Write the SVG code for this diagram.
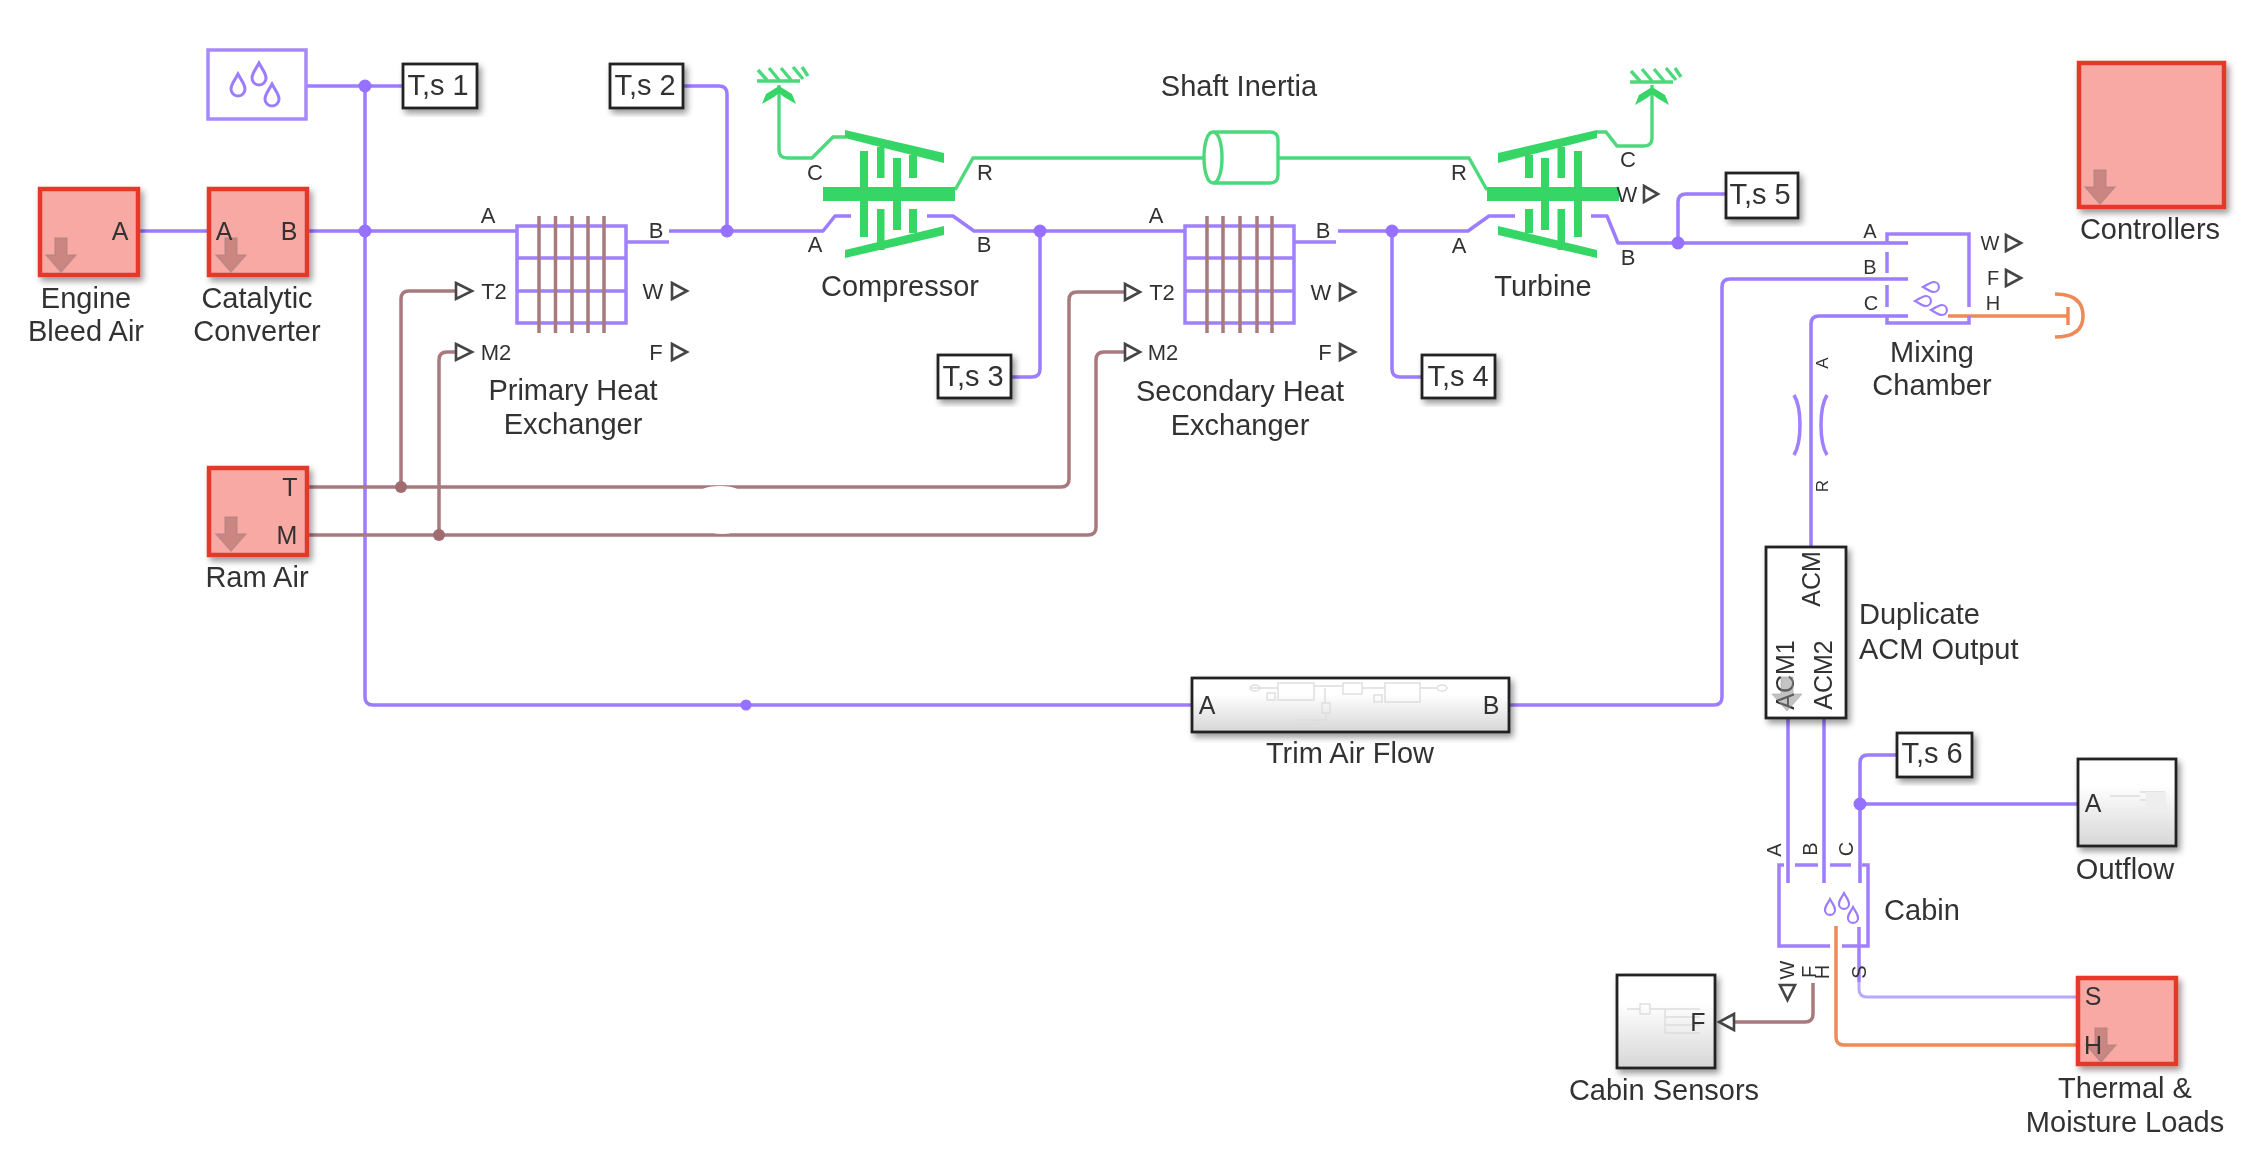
<svg xmlns="http://www.w3.org/2000/svg" xmlns:xlink="http://www.w3.org/1999/xlink" width="2260" height="1172" viewBox="0 0 2260 1172">
<style>
text{font-family:"Liberation Sans",Arial,sans-serif;fill:#333;dominant-baseline:central;text-anchor:middle}
.lb{font-size:29px;transform:translateY(-1.5px)}.p{font-size:22px}.s{font-size:20px}.ts{font-size:29px}.big{font-size:25px}
.pur{fill:none;stroke:#9c7bff;stroke-width:3.5;stroke-linejoin:round}
.pur2{fill:none;stroke:#a080ff;stroke-width:3.5}
.lil{fill:none;stroke:#b9a8ff;stroke-width:3}
.bro{fill:none;stroke:#a87a7e;stroke-width:3.5}
.gre{fill:none;stroke:#4cd97c;stroke-width:3.4}
.org{fill:none;stroke:#ee8a58;stroke-width:3.5}
.gb{fill:#35d566}
.jp{fill:#9670ff}.jb{fill:#a06c70}
.tri{fill:#fff;stroke:#444;stroke-width:2.6}
.red{fill:#f8a9a3;stroke:#e5382b;stroke-width:4.5}
.blk{fill:#fff;stroke:#222;stroke-width:2.8}
.sub{fill:url(#gr);stroke:#222;stroke-width:2.8}
.fa{fill:none;stroke:#ddd;stroke-width:1.4}
.shade{filter:url(#sh)}
.drop{fill:none;stroke:#9c7bff;stroke-width:3}
.dn{fill:#a86a68;fill-opacity:.55;stroke:#a08080;stroke-opacity:.5;stroke-width:1.5}
.dg{fill:#888;fill-opacity:.5;stroke:#999;stroke-opacity:.5;stroke-width:1}
</style>
<defs>
<linearGradient id="gr" x1="0" y1="0" x2="0" y2="1"><stop offset="0.3" stop-color="#fff"/><stop offset="1" stop-color="#d6d6d6"/></linearGradient>
<filter id="sh" x="-15%" y="-15%" width="135%" height="135%"><feDropShadow dx="3" dy="4" stdDeviation="3" flood-color="#000" flood-opacity=".4"/></filter>
<filter id="soft" filterUnits="userSpaceOnUse" x="0" y="0" width="2260" height="1172"><feGaussianBlur stdDeviation="0.7"/></filter>
<path id="drop" d="M0 -11C3 -5 7 -1 7 4A7 7 0 0 1 -7 4C-7 -1 -3 -5 0 -11Z"/>
<path id="dn" d="M-6 0H6V17H15L0 34L-15 17H-6Z"/>
<g id="ground"><path class="gre" d="M757 81H800M758 70L767 80M769 68L779 80M781 68L791 80M793 67L803 79M802 67L808 76"/><path class="gb" d="M779 86L792 94L796 104L784 97L779 93L774 97L762 104L766 94Z"/></g>
<g id="rotor" class="gb">
<rect x="823" y="187" width="132" height="14"/>
<rect x="860" y="151" width="8" height="86"/><rect x="893" y="158" width="8" height="72"/>
<rect x="877" y="147" width="7.500" height="31"/><rect x="909" y="155" width="8" height="23"/>
<rect x="877" y="209" width="7.500" height="41"/><rect x="909" y="209" width="8" height="24"/>
<polygon points="845,130 944,153 944,163 845,138"/><polygon points="845,250 944,226 944,235 845,258"/>
</g>
</defs>
<rect width="2260" height="1172" fill="#fff"/>
<g filter="url(#soft)">

<g id="connectors">
<path class="pur" d="M306 86H403"/>
<path class="pur" d="M365 86V697Q365 705 373 705H1192"/>
<path class="pur" d="M139 231H209M307 231H517"/>
<path class="pur" d="M669 231H823L835 216H851"/>
<path class="pur" d="M683 86H719Q727 86 727 94V231"/>
<path class="pur" d="M927 216H953L974 231H1185"/>
<path class="pur" d="M1040 231V369Q1040 377 1032 377H1011"/>
<path class="pur" d="M1338 231H1468L1489 216H1515"/>
<path class="pur" d="M1392 231V369Q1392 377 1400 377H1422"/>
<path class="pur" d="M1591 216H1607L1618 243H1908"/>
<path class="pur" d="M1678 243V202Q1678 194 1686 194H1727"/>
<path class="pur" d="M1509 705H1714Q1722 705 1722 697V287Q1722 279 1730 279H1908"/>
<path class="pur" d="M1908 316H1819Q1811 316 1811 324V547"/>
<path class="pur" d="M1788 718V883M1824 718V883"/>
<path class="pur" d="M1860 883V763Q1860 755 1868 755H1897"/>
<path class="pur" d="M1860 804H2078"/>
<path class="pur2" d="M1859 927V982"/>
<path class="lil" d="M1859 982V989Q1859 997 1867 997H2078"/>
<path class="org" d="M1836 926V1037Q1836 1045 1844 1045H2078"/>
<path class="org" d="M1948 316H2068"/>
<path class="bro" d="M307 487H1061Q1069 487 1069 479V300Q1069 292 1077 292H1125"/>
<path class="bro" d="M307 535H1088Q1096 535 1096 527V360Q1096 352 1104 352H1125"/>
<ellipse cx="720" cy="494" rx="22" ry="8" fill="#fff"/><ellipse cx="722" cy="526" rx="18" ry="8" fill="#fff"/>
<path class="bro" d="M401 487V299Q401 291 409 291H455"/>
<path class="bro" d="M439 535V360Q439 352 447 352H455"/>
<path class="bro" d="M1813 983V1014Q1813 1022 1805 1022H1734"/>
<path class="gre" d="M779 85V150Q779 158 787 158H812L833 137H846"/>
<path class="gre" d="M955 190L973 158H1205M1278 158H1469L1487 190"/>
<path class="gre" d="M1597 132H1606L1617 146H1644Q1652 146 1652 138V85"/>
<circle class="jp" cx="365" cy="86" r="6.500"/><circle class="jp" cx="365" cy="231" r="6.500"/>
<circle class="jp" cx="727" cy="231" r="6.500"/><circle class="jp" cx="1040" cy="231" r="6.500"/>
<circle class="jp" cx="1392" cy="231" r="6.500"/><circle class="jp" cx="1678" cy="243" r="6.500"/>
<circle class="jp" cx="746" cy="705" r="5.500"/><circle class="jp" cx="1860" cy="804" r="6.500"/>
<circle class="jb" cx="401" cy="487" r="6"/><circle class="jb" cx="439" cy="535" r="6"/>
</g>

<g id="air-properties"><rect x="208" y="50" width="98" height="69" fill="#fff" stroke="#a688ff" stroke-width="3.5"/>
<use xlink:href="#drop" class="drop" x="238" y="85"/><use xlink:href="#drop" class="drop" x="259" y="74"/><use xlink:href="#drop" class="drop" x="272" y="95"/></g>

<g id="ts1"><rect class="blk shade" x="403" y="64" width="74" height="44"/><text class="ts" x="438" y="85">T,s 1</text></g>
<g id="ts2"><rect class="blk shade" x="610" y="64" width="73" height="44"/><text class="ts" x="645" y="85">T,s 2</text></g>
<g id="ts3"><rect class="blk shade" x="938" y="355" width="73" height="43"/><text class="ts" x="973" y="376">T,s 3</text></g>
<g id="ts4"><rect class="blk shade" x="1422" y="355" width="73" height="43"/><text class="ts" x="1458" y="376">T,s 4</text></g>
<g id="ts5"><rect class="blk shade" x="1726" y="173" width="72" height="45"/><text class="ts" x="1760" y="194">T,s 5</text></g>
<g id="ts6"><rect class="blk shade" x="1897" y="733" width="75" height="44"/><text class="ts" x="1932" y="753">T,s 6</text></g>

<g id="engine-bleed-air"><rect class="red shade" x="40" y="189" width="98" height="86"/><use xlink:href="#dn" class="dn" x="61" y="238"/><text class="big" x="120" y="231">A</text>
<text class="lb" x="86" y="299">Engine</text><text class="lb" x="86" y="332">Bleed Air</text></g>
<g id="catalytic-converter"><rect class="red shade" x="209" y="189" width="98" height="86"/><use xlink:href="#dn" class="dn" x="231" y="238"/><text class="big" x="224" y="231">A</text><text class="big" x="289" y="231">B</text>
<text class="lb" x="257" y="299">Catalytic</text><text class="lb" x="257" y="332">Converter</text></g>
<g id="ram-air"><rect class="red shade" x="209" y="468" width="98" height="87"/><use xlink:href="#dn" class="dn" x="231" y="517"/><text class="big" x="290" y="487">T</text><text class="big" x="287" y="535">M</text>
<text class="lb" x="257" y="578">Ram Air</text></g>

<g id="primary-hx">
<path class="pur2" d="M517 226H626V323H517ZM517 258H626M517 291H626M626 242H669"/>
<path class="bro" d="M539 216V333M555.500 216V333M572 216V333M588 216V333M604 216V333"/>
<text class="p" x="488" y="215">A</text><text class="p" x="656" y="230">B</text>
<polygon class="tri" points="456,283 472,291 456,299"/><polygon class="tri" points="456,344 472,352 456,360"/>
<text class="p" x="494" y="291">T2</text><text class="p" x="496" y="352">M2</text>
<text class="p" x="653" y="291">W</text><polygon class="tri" points="672,283 687,291 672,299"/>
<text class="p" x="656" y="352">F</text><polygon class="tri" points="672,344 687,352 672,360"/>
<text class="lb" x="573" y="391">Primary Heat</text><text class="lb" x="573" y="425">Exchanger</text>
</g>

<g id="compressor"><use xlink:href="#ground"/><use xlink:href="#rotor"/>
<text class="p" x="815" y="172">C</text><text class="p" x="985" y="172">R</text><text class="p" x="815" y="244">A</text><text class="p" x="984" y="244">B</text>
<text class="lb" x="900" y="287">Compressor</text></g>

<g id="shaft-inertia"><path class="gre" d="M1213 132H1270Q1278 132 1278 140V175Q1278 183 1270 183H1213C1201 183 1201 132 1213 132C1225 132 1225 183 1213 183"/>
<text class="lb" x="1239" y="87">Shaft Inertia</text></g>

<g id="secondary-hx">
<path class="pur2" d="M1185 226H1294V323H1185ZM1185 258H1294M1185 291H1294M1294 242H1336"/>
<path class="bro" d="M1207 216V333M1223 216V333M1240 216V333M1257 216V333M1272 216V333"/>
<text class="p" x="1156" y="215">A</text><text class="p" x="1323" y="230">B</text>
<polygon class="tri" points="1125,284 1140,292 1125,300"/><polygon class="tri" points="1125,344 1140,352 1125,360"/>
<text class="p" x="1162" y="292">T2</text><text class="p" x="1163" y="352">M2</text>
<text class="p" x="1321" y="292">W</text><polygon class="tri" points="1340,284 1355,292 1340,300"/>
<text class="p" x="1325" y="352">F</text><polygon class="tri" points="1340,344 1355,352 1340,360"/>
<text class="lb" x="1240" y="392">Secondary Heat</text><text class="lb" x="1240" y="426">Exchanger</text>
</g>

<g id="turbine"><use xlink:href="#ground" transform="translate(873 1)"/><use xlink:href="#rotor" transform="translate(2442 0) scale(-1 1)"/>
<text class="p" x="1459" y="172">R</text><text class="p" x="1459" y="245">A</text><text class="p" x="1628" y="159">C</text><text class="p" x="1627" y="194">W</text><text class="p" x="1628" y="257">B</text>
<polygon class="tri" points="1644,186 1658,194 1644,202"/>
<text class="lb" x="1543" y="287">Turbine</text></g>

<g id="mixing-chamber">
<path class="pur2" d="M1887 244V234H1969V307M1887 252V273M1887 285V307M1887 316V323H1969V316"/>
<use xlink:href="#drop" class="drop" transform="translate(1931 287) rotate(-90) scale(.72)"/><use xlink:href="#drop" class="drop" transform="translate(1923 301) rotate(-90) scale(.72)"/><use xlink:href="#drop" class="drop" transform="translate(1939 310) rotate(-90) scale(.72)"/>
<path class="org" d="M2068 307V325M2055 294Q2083 294 2083 316Q2083 337 2055 337"/>
<text class="s" x="1870" y="231">A</text><text class="s" x="1870" y="267">B</text><text class="s" x="1871" y="303">C</text>
<text class="s" x="1990" y="243">W</text><polygon class="tri" points="2006,235 2021,243 2006,251"/>
<text class="s" x="1993" y="278">F</text><polygon class="tri" points="2006,270 2021,278 2006,286"/>
<text class="s" x="1993" y="303">H</text>
<text class="lb" x="1932" y="353">Mixing</text><text class="lb" x="1932" y="386">Chamber</text>
</g>

<g id="controllers"><rect class="red shade" x="2079" y="63" width="145" height="144"/><use xlink:href="#dn" class="dn" x="2100" y="170"/><text class="lb" x="2150" y="230">Controllers</text></g>

<g id="restriction">
<path class="pur2" d="M1794 395Q1800 405 1800 425Q1800 445 1794 455M1827 395Q1821 405 1821 425Q1821 445 1827 455"/>
<text class="p" style="font-size:17px" transform="translate(1822 363) rotate(-90)">A</text><text class="p" style="font-size:17px" transform="translate(1822 486) rotate(-90)">R</text>
</g>

<g id="duplicate-acm"><rect class="blk shade" x="1766" y="547" width="80" height="171"/>
<text class="big" transform="translate(1811 579) rotate(-90)">ACM</text><text class="big" transform="translate(1823 675) rotate(-90)">ACM2</text><text class="big" transform="translate(1785 675) rotate(-90)">ACM1</text>
<use xlink:href="#dn" class="dg" x="1787" y="677"/>
<text class="lb" x="1859" y="615" style="text-anchor:start">Duplicate</text><text class="lb" x="1859" y="650" style="text-anchor:start">ACM Output</text></g>

<g id="trim-air-flow"><rect class="sub shade" x="1192" y="678" width="317" height="54"/>
<path class="fa" d="M1250 688H1278M1314 686H1343M1362 688H1385M1420 688H1436M1325 688V703M1326 713V720H1315"/>
<rect class="fa" x="1278" y="683" width="36" height="17"/><rect class="fa" x="1343" y="683" width="19" height="11"/><rect class="fa" x="1385" y="683" width="35" height="19"/><rect class="fa" x="1267" y="693" width="8" height="7"/><rect class="fa" x="1374" y="695" width="8" height="7"/><rect class="fa" x="1322" y="703" width="8" height="10"/><rect class="fa" x="1297" y="720" width="18" height="4"/>
<ellipse class="fa" cx="1255" cy="688" rx="5" ry="3"/><ellipse class="fa" cx="1442" cy="688" rx="5" ry="3"/>
<text class="big" x="1207" y="705">A</text><text class="big" x="1491" y="705">B</text>
<text class="lb" x="1350" y="754">Trim Air Flow</text></g>

<g id="cabin">
<path class="pur2" d="M1795 865H1818M1830 865H1851M1862 865H1868V946H1842M1830 946H1779V865H1784"/>
<use xlink:href="#drop" class="drop" transform="translate(1830 907) scale(.72)"/><use xlink:href="#drop" class="drop" transform="translate(1844 901) scale(.72)"/><use xlink:href="#drop" class="drop" transform="translate(1853 915) scale(.72)"/>
<text class="s" transform="translate(1774 850) rotate(-90)">A</text><text class="s" transform="translate(1810 849) rotate(-90)">B</text><text class="s" transform="translate(1846 849) rotate(-90)">C</text>
<text class="s" transform="translate(1787 970) rotate(-90)">W</text><text class="s" transform="translate(1809 972) rotate(-90)">F</text><text class="s" transform="translate(1822 972) rotate(-90)">H</text><text class="s" transform="translate(1859 972) rotate(-90)">S</text>
<polygon class="tri" points="1780,985 1795,985 1787.500,1000"/>
<text class="lb" x="1922" y="911">Cabin</text></g>

<g id="cabin-sensors"><rect class="sub shade" x="1617" y="975" width="98" height="93"/>
<path class="fa" d="M1627 1009H1640M1650 1009H1665M1665 1009V1033M1665 1009H1700M1665 1017H1700M1665 1025H1700M1665 1033H1700"/><rect class="fa" x="1640" y="1004" width="10" height="10"/>
<text class="big" x="1698" y="1022">F</text><polygon class="tri" points="1734,1014 1734,1030 1719,1022"/>
<text class="lb" x="1664" y="1091">Cabin Sensors</text></g>

<g id="outflow"><rect class="sub shade" x="2078" y="759" width="98" height="87"/>
<path class="fa" d="M2110 796H2140M2140 792H2165M2140 800H2165"/><rect x="2146" y="792" width="20" height="21" fill="#eee"/>
<text class="big" x="2093" y="803">A</text><text class="lb" x="2125" y="870">Outflow</text></g>

<g id="thermal-moisture-loads"><rect class="red shade" x="2078" y="978" width="98" height="86"/><use xlink:href="#dn" class="dn" x="2101" y="1028"/>
<text class="big" x="2093" y="996">S</text><text class="big" x="2093" y="1045">H</text>
<text class="lb" x="2125" y="1089">Thermal &amp;</text><text class="lb" x="2125" y="1123">Moisture Loads</text></g>
</g>
</svg>
